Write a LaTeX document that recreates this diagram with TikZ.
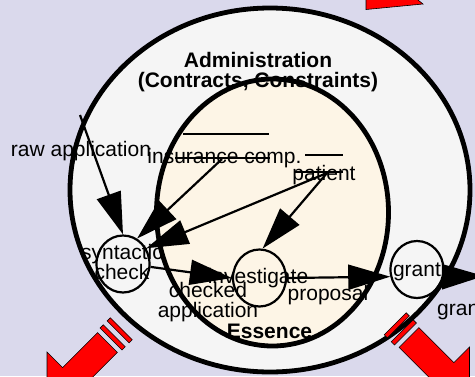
\documentclass[tikz,border=0pt]{standalone}
\usepackage{fontspec}
\setmainfont{Liberation Sans}
\usepackage{tikz}
\usetikzlibrary{arrows.meta,shapes.geometric}
\definecolor{bg}{HTML}{DAD9EC}
\definecolor{adm}{HTML}{F5F5F5}
\definecolor{ess}{HTML}{FDF5E6}
\definecolor{rd}{HTML}{FF0000}

\begin{document}
\begin{tikzpicture}[x=1pt,y=-1pt,
    txt/.style={font=\fontsize{21}{20}\selectfont,inner sep=0pt,align=center,anchor=base},
    ttl/.style={txt,font=\fontsize{21}{19.5}\selectfont\bfseries},
    proc/.style={ellipse,draw,line width=2.2pt,minimum width=53pt,minimum height=57pt,inner sep=0pt},
    flow/.style={line width=2.2pt,-{Triangle[length=42pt,width=25pt]}},
    store/.style={line width=2.5pt},
    fat/.style={fill=rd,draw=black,line width=0.6pt}]
            \useasboundingbox (0,0) rectangle (475,376);
            \clip (0,0) rectangle (475,376);
            \fill[bg] (0,0) rectangle (475,376);
            \draw[fill=adm,line width=4.8pt] (270,190) ellipse [x radius=200pt, y radius=182pt];
            \node[proc] (sc) at (123,264) {};
            \node[txt] (sclbl) at (122,279) {syntactic\\check};
            \draw[fill=ess,line width=4.8pt] (272.5,212.5) ellipse [x radius=116pt, y radius=133.5pt];
            \node[ttl] (title) at (258,87) {Administration\\(Contracts, Constraints)};
            \node[ttl] (essence) at (269.5,338) {Essence};
            \node[txt] (rawlbl) at (81,156) {raw application};
            \node[txt] (inslbl) at (224.5,163) {insurance comp.};
            \node[txt] (patlbl) at (324,180) {patient};
            \draw[store] (183,134) -- (269,134);
            \draw[store] (175,158) -- (270,158);
            \draw[store] (305,155) -- (343,155);
            \draw[store] (295,172) -- (343,172);
            \node[proc] (inv) at (259.5,278) {};
            \node[txt] (invlbl) at (258,283) {investigate};
            \node[txt] (chklbl) at (208,317) {checked\\application};
            \node[txt] (proplbl) at (328,300) {proposal};
            \node[proc] (gr) at (417,269.5) {};
            \node[txt] (grlbl) at (417,276) {grant};
            \node[txt,anchor=base west] (outlbl) at (437,315) {grant};
            \coordinate (raw) at (80,115);
            \coordinate (ins) at (222,159);
            \coordinate (pat) at (327,173);
            \coordinate (out) at (484,276);
            \draw[flow] (raw) -- (sc.north);
            \draw[flow] (ins) -- (sc.61);
            \draw[flow] (pat) -- (sc.34);
            \draw[flow] (pat) -- (inv.84);
            \draw[flow] (sc.-6) -- (inv.west);
            \draw[flow] (inv.east) -- (gr.195);
            \draw[flow] (gr.-15) -- (out);
            \foreach \px/\py/\ang in {107.5/342.5/225,409/337.5/-45}{
              \begin{scope}[shift={(\px,\py)},rotate=\ang]
                \draw[fat] (0,-14) -- (49.5,-14) -- (49.5,-36) -- (85.5,0) -- (49.5,36) -- (49.5,14) -- (0,14) -- cycle;
                \draw[fat] (-19.5,-15.5) rectangle (-15,15.5);
                \draw[fat] (-9.5,-15.5) rectangle (-5,15.5);
              \end{scope}
            }
            \draw[fat] (366,-5) -- (366,9.5) -- (423,4) -- (413,-4) -- cycle;
          \end{tikzpicture}
\end{document}
